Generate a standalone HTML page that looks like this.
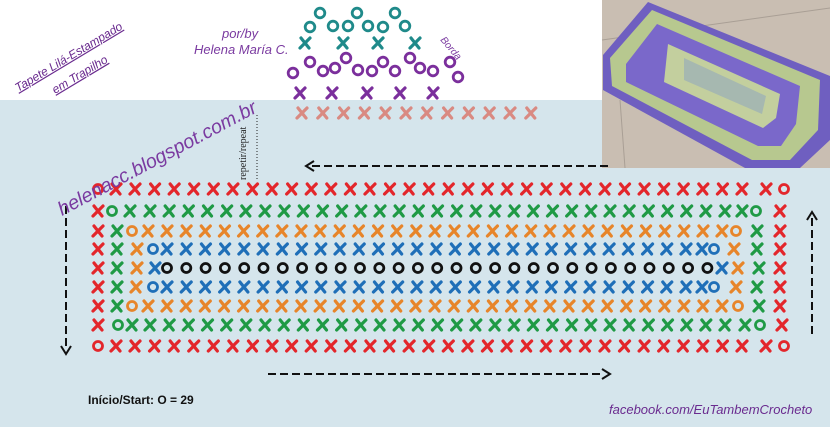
<!DOCTYPE html>
<html><head><meta charset="utf-8"><style>
html,body{margin:0;padding:0;}
body{width:830px;height:427px;overflow:hidden;background:#fff;font-family:"Liberation Sans",sans-serif;}
</style></head><body>
<svg id="s" width="830" height="427" xmlns="http://www.w3.org/2000/svg" style="position:absolute;left:0;top:0">
<rect x="0" y="0" width="830" height="100" fill="#ffffff"/>
<rect x="0" y="100" width="830" height="327" fill="#d5e5ec"/>
<rect x="602" y="0" width="228" height="168" fill="#c9beb2"/>
<line x1="602" y1="40" x2="830" y2="8" stroke="#a99f95" stroke-width="1"/>
<line x1="625" y1="168" x2="620" y2="100" stroke="#a99f95" stroke-width="1"/>
<polygon points="648,2 830,76 830,140 800,168 745,168 603,90 603,55" fill="#6f5fc0"/>
<polygon points="652,10 820,80 818,130 790,160 752,160 612,86 610,58" fill="#b7c88f"/>
<polygon points="657,24 800,86 796,124 781,146 758,146 626,82 626,64" fill="#7a68ca"/>
<polygon points="668,44 780,94 776,118 763,128 664,82" fill="#c3cf9e"/>
<polygon points="684,58 766,96 762,114 684,80" fill="#a6b8b0"/>
<g id="g"></g>
<g stroke="#111" stroke-width="2" fill="none" stroke-dasharray="8,4">
<line x1="608" y1="166" x2="312" y2="166"/>
<line x1="268" y1="374" x2="604" y2="374"/>
<line x1="66" y1="206" x2="66" y2="348"/>
<line x1="812" y1="334" x2="812" y2="218"/>
</g>
<g stroke="#111" stroke-width="2" fill="none">
<polyline points="314,161 306,166 314,171"/>
<polyline points="602,369 610,374 602,379"/>
<polyline points="61,346 66,354 71,346"/>
<polyline points="807,220 812,212 817,220"/>
</g>
<line x1="257" y1="115" x2="257" y2="180" stroke="#222" stroke-width="1" stroke-dasharray="1,2"/>
<text x="0" y="0" transform="translate(246,180) rotate(-90)" font-size="10" fill="#222" font-family="Liberation Serif,serif">repetir/repeat</text>
<text x="0" y="0" transform="translate(62,216) rotate(-28)" font-size="19.5" fill="#7a3aa0" font-style="italic">helenacc.blogspot.com.br</text>
<text x="0" y="0" transform="translate(18,92) rotate(-31)" font-size="12" fill="#6a2b8f" font-style="italic" text-decoration="underline">Tapete Lilá-Estampado</text>
<text x="0" y="0" transform="translate(55,94) rotate(-31)" font-size="12" fill="#6a2b8f" font-style="italic" text-decoration="underline">em Trapilho</text>
<text x="222" y="38" font-size="13" fill="#7a3aa0" font-style="italic">por/by</text>
<text x="194" y="54" font-size="13" fill="#7a3aa0" font-style="italic">Helena María C.</text>
<text x="0" y="0" transform="translate(440,40) rotate(50)" font-size="10" fill="#7a3aa0" font-style="italic">Borda</text>
<text x="88" y="404" font-size="12" font-weight="bold" fill="#111">Início/Start: O = 29</text>
<text x="609" y="414" font-size="13" fill="#6a2b8f" font-style="italic">facebook.com/EuTambemCrocheto</text>
</svg>
<script>
var g=document.getElementById('g');var ns="http://www.w3.org/2000/svg";
function X(x,y,c,sz){var h=(sz||5);var e=document.createElementNS(ns,'path');
e.setAttribute('d','M'+(x-h+1)+','+(y-h)+' L'+(x+h-1)+','+(y+h)+' M'+(x+h)+','+(y-h)+' L'+(x-h)+','+(y+h));
e.setAttribute('stroke',c);e.setAttribute('stroke-width','3.2');e.setAttribute('stroke-linecap','round');g.appendChild(e);}
function O(x,y,c,r){var e=document.createElementNS(ns,'circle');e.setAttribute('cx',x);e.setAttribute('cy',y);e.setAttribute('r',r||4.5);e.setAttribute('fill','none');e.setAttribute('stroke',c);e.setAttribute('stroke-width','2.8');g.appendChild(e);}
var R='#e3262b',G='#1f9a45',Or='#e7852a',B='#1f6fb8',K='#111';
function run(y,x0,x1,c){var n=Math.round((x1-x0)/19.3);var s=(x1-x0)/n;for(var i=0;i<=n;i++)X(x0+i*s,y,c);}
var ys=[189,211,231,249,268,287,306,325,346];
O(98,ys[0],R);X(116,ys[0],R);run(ys[0],135,742,R);X(766,ys[0],R);O(784,ys[0],R);
X(98,ys[1],R);O(112,ys[1],G);X(130,ys[1],G);run(ys[1],150,725,G);X(742,ys[1],G);O(756,ys[1],G);X(780,ys[1],R);
X(98,ys[2],R);X(117,ys[2],G);O(132,ys[2],Or);X(148,ys[2],Or);run(ys[2],167,703,Or);X(722,ys[2],Or);O(736,ys[2],Or);X(757,ys[2],G);X(780,ys[2],R);
X(98,ys[3],R);X(117,ys[3],G);X(137,ys[3],Or);O(153,ys[3],B);run(ys[3],167,686,B);X(702,ys[3],B);O(714,ys[3],B);X(734,ys[3],Or);X(757,ys[3],G);X(780,ys[3],R);
X(98,ys[4],R);X(117,ys[4],G);X(137,ys[4],Or);X(155,ys[4],B);for(var i=0;i<29;i++)O(167+i*19.3,ys[4],K);X(722,ys[4],B);X(738,ys[4],Or);X(759,ys[4],G);X(780,ys[4],R);
X(98,ys[5],R);X(117,ys[5],G);X(136,ys[5],Or);O(153,ys[5],B);run(ys[5],167,686,B);X(702,ys[5],B);O(714,ys[5],B);X(736,ys[5],Or);X(757,ys[5],G);X(780,ys[5],R);
X(98,ys[6],R);X(117,ys[6],G);O(132,ys[6],Or);X(148,ys[6],Or);run(ys[6],167,703,Or);X(722,ys[6],Or);O(738,ys[6],Or);X(759,ys[6],G);X(780,ys[6],R);
X(98,ys[7],R);O(118,ys[7],G);X(132,ys[7],G);run(ys[7],150,725,G);X(745,ys[7],G);O(760,ys[7],G);X(782,ys[7],R);
O(98,ys[8],R);X(116,ys[8],R);run(ys[8],135,742,R);X(766,ys[8],R);O(784,ys[8],R);
var S='#d98a82';for(var i=0;i<12;i++)X(302+i*20.8,113,S,5);
var P='#7b2f9c';[300,332,367,400,433].forEach(function(x){X(x,93,P,5);});
[[293,73],[310,62],[323,71],[335,68],[346,58],[358,70],[372,71],[383,62],[395,71],[410,58],[420,68],[433,71],[450,62],[458,77]].forEach(function(p){O(p[0],p[1],P,4.8);});
var T='#1f8a8a';[305,343,378,415].forEach(function(x){X(x,43,T,5);});
[[310,27],[320,13],[333,26],[348,26],[357,13],[368,26],[383,27],[395,13],[405,26]].forEach(function(p){O(p[0],p[1],T,4.8);});
</script>
</body></html>
